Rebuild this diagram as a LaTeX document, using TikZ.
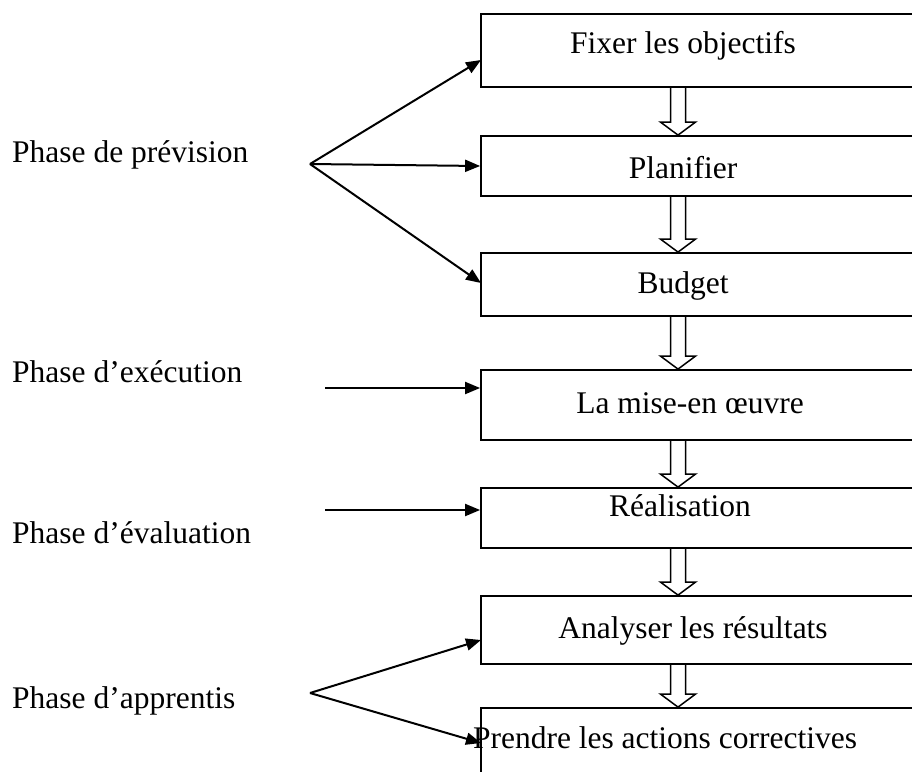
\documentclass[tikz,border=0pt]{standalone}
\usepackage{fontspec}
\setmainfont{Liberation Serif}
\usetikzlibrary{arrows.meta,calc}

% open block arrow between two stacked boxes (shaft open at the top)
\newcommand\blockarr[2]{%
  \draw[blk] let \p1=(#1.south), \p2=(#2.north), \n1={\y2+13pt} in
    (670.5pt,\y1) -- (670.5pt,\n1) -- (660.5pt,\n1) -- (678pt,\y2)
    -- (695.5pt,\n1) -- (685.5pt,\n1) -- (685.5pt,\y1);}

\begin{document}
\begin{tikzpicture}[x=1pt,y=-1pt,
  txt/.style={font=\fontsize{31.5}{38}\selectfont,inner sep=0pt},
  box/.style={draw,line width=1.8pt,minimum width=449pt,inner sep=0pt},
  link/.style={line width=2pt,-{Triangle[length=15pt,width=12pt]}},
  blk/.style={line width=1.5pt,line join=miter}]
\useasboundingbox (0,0) rectangle (912,771);

% process boxes (right side runs past the page edge)
\node[box,minimum height=73pt] (b1) at (705.5,50.5) {};
\node[box,minimum height=60pt] (b2) at (705.5,166) {};
\node[box,minimum height=63pt] (b3) at (705.5,284.5) {};
\node[box,minimum height=70pt] (b4) at (705.5,405) {};
\node[box,minimum height=60pt] (b5) at (705.5,518) {};
\node[box,minimum height=68pt] (b6) at (705.5,630) {};
\node[box,minimum height=92pt] (b7) at (705.5,754) {};

% box captions
\node[txt,anchor=base] (t1) at (683,53) {Fixer les objectifs};
\node[txt,anchor=base] (t2) at (683,178) {Planifier};
\node[txt,anchor=base] (t3) at (683,293) {Budget};
\node[txt,anchor=base] (t4) at (690,413) {La mise-en œuvre};
\node[txt,anchor=base] (t5) at (680,516) {Réalisation};
\node[txt,anchor=base] (t6) at (693,638) {Analyser les résultats};
\node[txt,anchor=base] (t7) at (665,748) {Prendre les actions correctives};

% phase labels
\node[txt,anchor=base west] (p1) at (12,162) {Phase de prévision};
\node[txt,anchor=base west] (p2) at (12,382) {Phase d’exécution};
\node[txt,anchor=base west] (p3) at (12,543) {Phase d’évaluation};
\node[txt,anchor=base west] (p4) at (12,708) {Phase d’apprentis};

% arrow end points
\coordinate (f1) at (310,164);
\coordinate (f2) at (310,693);
\coordinate (e1) at (481,60);
\coordinate (e2) at (481,283);
\coordinate (e3) at (481,640);
\coordinate (e4) at (481,743);
\coordinate (s1) at (325,388);
\coordinate (s2) at (325,510);

% forecasting phase fan
\draw[link] (f1) -- (e1);
\draw[link] (f1) -- (b2.west);
\draw[link] (f1) -- (e2);
% execution and evaluation
\draw[link] (s1) -- (s1 -| b4.west);
\draw[link] (s2) -- (s2 -| b5.west);
% learning phase fan
\draw[link] (f2) -- (e3);
\draw[link] (f2) -- (e4);

% flow between boxes
\blockarr{b1}{b2}
\blockarr{b2}{b3}
\blockarr{b3}{b4}
\blockarr{b4}{b5}
\blockarr{b5}{b6}
\blockarr{b6}{b7}
\end{tikzpicture}
\end{document}
